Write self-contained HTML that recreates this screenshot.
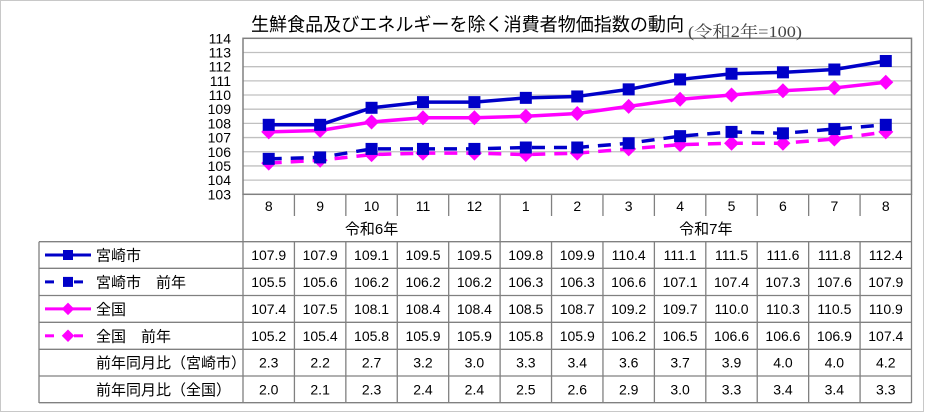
<!DOCTYPE html>
<html><head><meta charset="utf-8"><style>
html,body{margin:0;padding:0;background:#fff;}
svg{display:block;}
text{font-family:"Liberation Sans","Noto Sans CJK JP",sans-serif;}
</style></head><body>
<svg id="s" width="932" height="412" xmlns="http://www.w3.org/2000/svg"></svg>
<script>
const S=document.getElementById('s');
let h='';
h+='<rect x="0.5" y="0.5" width="923" height="411" fill="#fff" stroke="#c8c8c8" stroke-width="1"/>';
const L=243,R=911.5,T=38.3,B=194.3,U=(B-T)/11,CW=(R-L)/13;
const X=i=>L+CW*(i+0.5), Y=v=>B-(v-103)*U;
for(let v=104;v<=113;v++){h+=`<line x1="${L}" x2="${R}" y1="${Y(v)}" y2="${Y(v)}" stroke="#c0c0c0" stroke-width="1.3"/>`;}
h+=`<rect x="${L}" y="${T}" width="${R-L}" height="${B-T}" fill="none" stroke="#808080" stroke-width="1.5"/>`;
for(let v=103;v<=114;v++){h+=`<text x="231" y="${Y(v)+5}" font-size="14" text-anchor="end">${v}</text>`;}
h+='<text x="251" y="31" font-size="18.5" textLength="433" lengthAdjust="spacingAndGlyphs">生鮮食品及びエネルギーを除く消費者物価指数の動向</text>';
h+='<text x="688" y="37" font-size="16" fill="#444" textLength="114" lengthAdjust="spacingAndGlyphs" style="font-family:\'Liberation Serif\',\'Noto Serif CJK SC\',serif">(令和2年=100)</text>';
const mon=['8','9','10','11','12','1','2','3','4','5','6','7','8'];
const d=[
['宮崎市',['107.9','107.9','109.1','109.5','109.5','109.8','109.9','110.4','111.1','111.5','111.6','111.8','112.4'],'#0000c8',0,'sq'],
['宮崎市　前年',['105.5','105.6','106.2','106.2','106.2','106.3','106.3','106.6','107.1','107.4','107.3','107.6','107.9'],'#0000c8',1,'sq'],
['全国',['107.4','107.5','108.1','108.4','108.4','108.5','108.7','109.2','109.7','110.0','110.3','110.5','110.9'],'#ff00ff',0,'di'],
['全国　前年',['105.2','105.4','105.8','105.9','105.9','105.8','105.9','106.2','106.5','106.6','106.6','106.9','107.4'],'#ff00ff',1,'di'],
['前年同月比（宮崎市）',['2.3','2.2','2.7','3.2','3.0','3.3','3.4','3.6','3.7','3.9','4.0','4.0','4.2']],
['前年同月比（全国）',['2.0','2.1','2.3','2.4','2.4','2.5','2.6','2.9','3.0','3.3','3.4','3.4','3.3']]];
function mk(t,x,y,c,s){return t=='sq'?`<rect x="${x-s}" y="${y-s}" width="${2*s}" height="${2*s}" fill="${c}"/>`:`<polygon points="${x},${y-s*1.25} ${x+s*1.25},${y} ${x},${y+s*1.25} ${x-s*1.25},${y}" fill="${c}"/>`;}
[3,1,2,0].forEach(k=>{const r=d[k];const pts=r[1].map((v,i)=>`${X(i)},${Y(+v)}`).join(' ');
h+=`<polyline points="${pts}" fill="none" stroke="${r[2]}" stroke-width="3.5" ${r[3]?'stroke-dasharray="13,9"':''} stroke-linejoin="round"/>`;
r[1].forEach((v,i)=>h+=mk(r[4],X(i),Y(+v),r[2],6));});
mon.forEach((m,i)=>h+=`<text x="${X(i)}" y="211" font-size="14" text-anchor="middle">${m}</text>`);
for(let i=1;i<13;i++){h+=`<line x1="${L+CW*i}" x2="${L+CW*i}" y1="${B}" y2="${i==5?403:216}" stroke="#808080" stroke-width="1.3"/>`;}
h+=`<text x="${L+CW*2.5}" y="234" font-size="15" text-anchor="middle">令和6年</text>`;
h+=`<text x="${L+CW*9}" y="234" font-size="15" text-anchor="middle">令和7年</text>`;
const ry=[241.7,268.3,295.5,322.3,349.3,376,402.7];
h+=`<line x1="${L}" x2="${L}" y1="${B}" y2="403" stroke="#808080" stroke-width="1.3"/>`;
h+=`<line x1="${R}" x2="${R}" y1="${B}" y2="403" stroke="#808080" stroke-width="1.3"/>`;
h+=`<line x1="39" x2="39" y1="${ry[0]}" y2="403" stroke="#808080" stroke-width="1.3"/>`;
ry.forEach(y=>h+=`<line x1="39" x2="${R}" y1="${y}" y2="${y}" stroke="#808080" stroke-width="1.3"/>`);
for(let i=1;i<13;i++){if(i!=5)h+=`<line x1="${L+CW*i}" x2="${L+CW*i}" y1="${ry[0]}" y2="403" stroke="#808080" stroke-width="1.3"/>`;}
d.forEach((r,k)=>{const cy=(ry[k]+ry[k+1])/2;
 h+=`<text x="96" y="${cy+5.5}" font-size="15">${r[0]}</text>`;
 if(r[2]){ if(r[3]){h+=`<line x1="45" x2="54" y1="${cy}" y2="${cy}" stroke="${r[2]}" stroke-width="3"/><line x1="74" x2="83" y1="${cy}" y2="${cy}" stroke="${r[2]}" stroke-width="3"/>`;}
  else h+=`<line x1="45" x2="91" y1="${cy}" y2="${cy}" stroke="${r[2]}" stroke-width="3"/>`;
  h+=mk(r[4],68,cy,r[2],5);}
 r[1].forEach((v,i)=>h+=`<text x="${X(i)}" y="${cy+5}" font-size="14" text-anchor="middle">${v}</text>`);});
S.innerHTML=h;
</script>
</body></html>
